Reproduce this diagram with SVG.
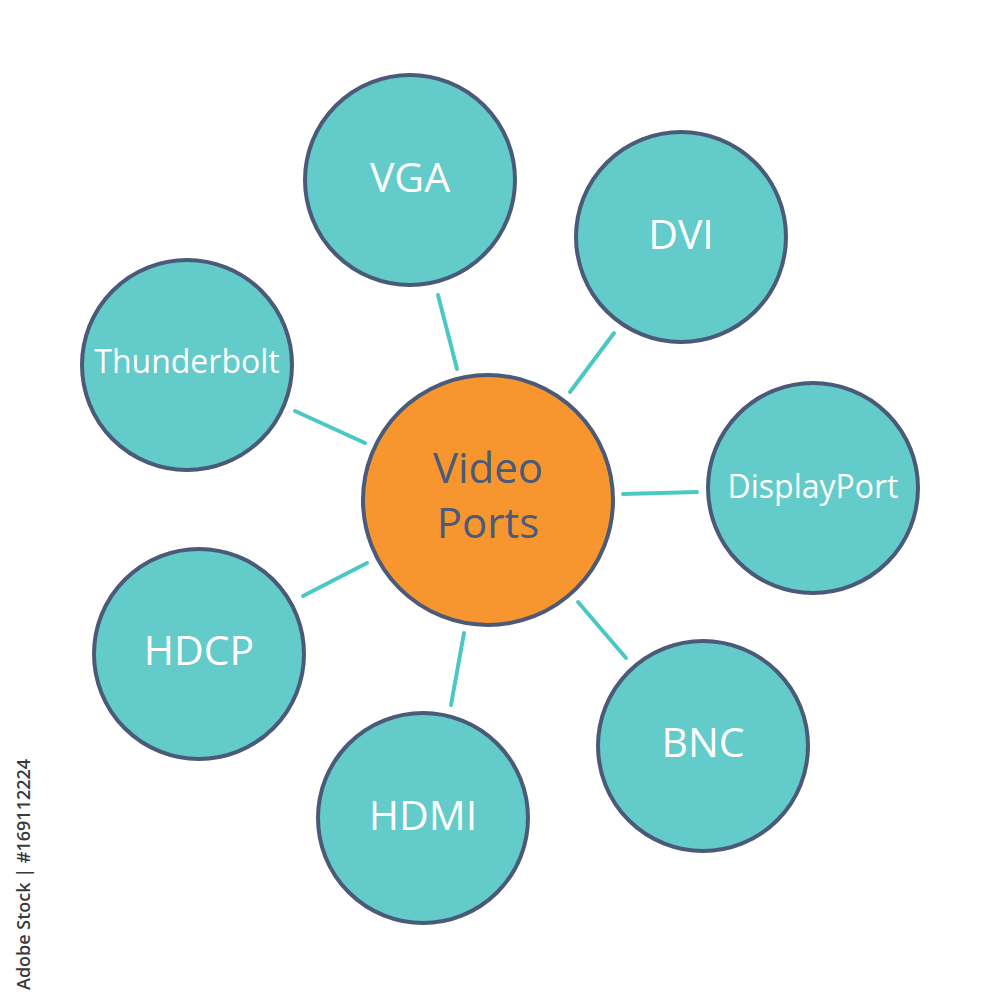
<svg xmlns="http://www.w3.org/2000/svg" width="1000" height="1000" viewBox="0 0 1000 1000">
<style>
.sat{fill:#63CBC9;stroke:#4A5A78;stroke-width:4}
.hub{fill:#F7962F;stroke:#4A5A78;stroke-width:4}
.lbl{font-family:"Open Sans","Noto Sans",sans-serif;fill:#FFFFFF;text-anchor:middle;dominant-baseline:central}
.big{font-size:41px}
.small{font-size:32px}
.hubt{font-family:"Open Sans","Noto Sans",sans-serif;fill:#4A5A78;text-anchor:middle;font-size:42px}
.con line{stroke:#4CC8C4;stroke-width:4;stroke-linecap:round}
</style>
<rect width="1000" height="1000" fill="#FFFFFF"/>
<g id="connectors" class="con">
<line x1="438" y1="295" x2="457" y2="369"/>
<line x1="614" y1="333" x2="570" y2="392"/>
<line x1="295" y1="411" x2="365" y2="443"/>
<line x1="623" y1="494" x2="697" y2="492"/>
<line x1="303" y1="596" x2="367" y2="563"/>
<line x1="578" y1="602" x2="626" y2="658"/>
<line x1="464" y1="633" x2="451" y2="705"/>
</g>
<g id="hub"><circle class="hub" cx="488" cy="500" r="125"/><text class="hubt" x="488" y="483">Video</text><text class="hubt" x="488" y="538">Ports</text></g>
<g id="vga"><circle class="sat" cx="410" cy="180" r="105"/><text class="lbl big" x="410" y="176">VGA</text></g>
<g id="dvi"><circle class="sat" cx="681" cy="237" r="105"/><text class="lbl big" x="681" y="233">DVI</text></g>
<g id="thunderbolt"><circle class="sat" cx="187" cy="365" r="105"/><text class="lbl small" x="187" y="360">Thunderbolt</text></g>
<g id="displayport"><circle class="sat" cx="813" cy="488" r="105"/><text class="lbl small" x="813" y="485">DisplayPort</text></g>
<g id="hdcp"><circle class="sat" cx="199" cy="654" r="105"/><text class="lbl big" x="199" y="649">HDCP</text></g>
<g id="bnc"><circle class="sat" cx="703" cy="746" r="105"/><text class="lbl big" x="703" y="741">BNC</text></g>
<g id="hdmi"><circle class="sat" cx="423" cy="818" r="105"/><text class="lbl big" x="423" y="814">HDMI</text></g>
<text transform="translate(30,990) rotate(-90)" font-family="Open Sans,Noto Sans,sans-serif" font-size="18" font-weight="600" fill="#3A3A3A">Adobe Stock | #169112224</text>
</svg>
